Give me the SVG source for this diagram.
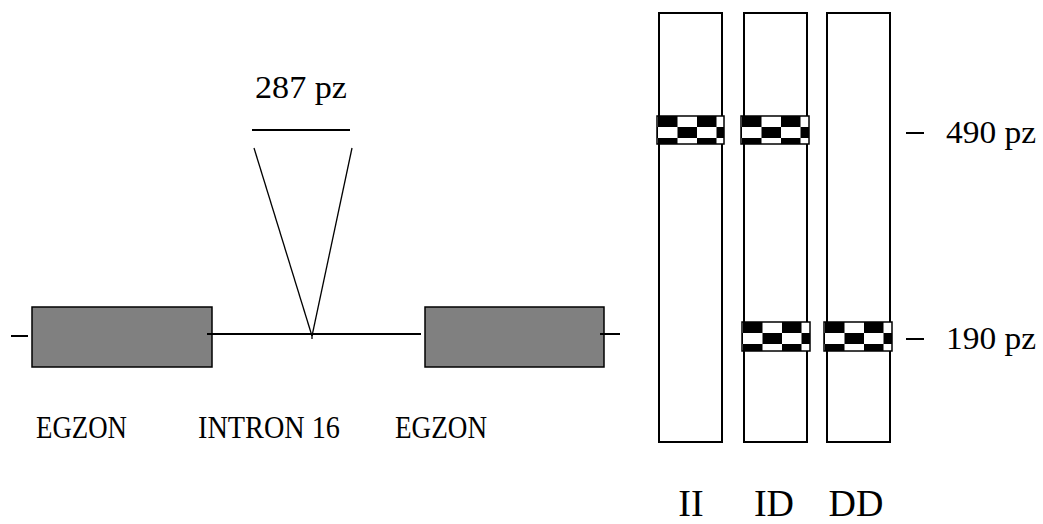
<svg xmlns="http://www.w3.org/2000/svg" width="1043" height="524" viewBox="0 0 1043 524">
  <style>
    .lbl { font-family: "Liberation Serif", "Times New Roman", serif; font-size: 31px; fill: #000; }
    .big { font-family: "Liberation Serif", "Times New Roman", serif; font-size: 38px; fill: #000; text-anchor: middle; }
    .ln { stroke: #000; stroke-width: 2; fill: none; }
    .thin { stroke: #000; stroke-width: 1.3; fill: none; }
    .exon { fill: #808080; stroke: #000; stroke-width: 1.5; }
    .lane { fill: #fff; stroke: #000; stroke-width: 2; }
    .band { fill: url(#checker); stroke: #000; stroke-width: 1.5; }
  </style>
  <defs>
    <!-- two-row checkerboard used for the gel bands -->
    <pattern id="checker" patternUnits="userSpaceOnUse" x="1" y="0" width="39" height="22">
      <rect width="39" height="22" fill="#fff"/>
      <rect x="0" y="0" width="19.5" height="11" fill="#000"/>
      <rect x="19.5" y="11" width="19.5" height="11" fill="#000"/>
    </pattern>
  </defs>

  <rect width="1043" height="524" fill="#fff"/>

  <!-- gene structure: backbone lines and insertion wedge -->
  <g id="connectors">
    <line class="ln" x1="11" y1="336" x2="28" y2="336"/>
    <line class="ln" x1="207" y1="334" x2="421" y2="334"/>
    <line class="ln" x1="600" y1="334" x2="620" y2="334"/>
    <line class="thin" x1="254" y1="148" x2="312" y2="336"/>
    <line class="thin" x1="352" y1="148" x2="312" y2="336"/>
    <line class="thin" x1="312" y1="334" x2="312" y2="339"/>
    <line class="ln" x1="252" y1="130" x2="350" y2="130"/>
  </g>

  <g id="exon-left">
    <rect class="exon" x="32" y="307" width="180" height="60"/>
    <line class="ln" x1="207" y1="334" x2="212" y2="334"/>
    <text class="lbl" x="36" y="438" textLength="91" lengthAdjust="spacingAndGlyphs">EGZON</text>
  </g>

  <g id="intron">
    <text class="lbl" x="198" y="438" textLength="142" lengthAdjust="spacingAndGlyphs">INTRON 16</text>
  </g>

  <g id="insert">
    <text class="lbl" x="255" y="98" textLength="92" lengthAdjust="spacingAndGlyphs">287 pz</text>
  </g>

  <g id="exon-right">
    <rect class="exon" x="425" y="307" width="179" height="60"/>
    <line class="ln" x1="600" y1="334" x2="604" y2="334"/>
    <text class="lbl" x="395" y="438" textLength="92" lengthAdjust="spacingAndGlyphs">EGZON</text>
  </g>

  <!-- gel lanes -->
  <g id="lane-II">
    <rect class="lane" x="659" y="13" width="63" height="429"/>
    <g transform="translate(657,116)"><rect class="band" width="67" height="28"/></g>
    <text class="big" x="691" y="516">II</text>
  </g>

  <g id="lane-ID">
    <rect class="lane" x="744" y="13" width="63" height="429"/>
    <g transform="translate(741,116)"><rect class="band" width="68" height="28"/></g>
    <g transform="translate(742,322)"><rect class="band" width="68" height="29"/></g>
    <text class="big" x="774" y="516">ID</text>
  </g>

  <g id="lane-DD">
    <rect class="lane" x="827" y="13" width="63" height="429"/>
    <g transform="translate(824,322)"><rect class="band" width="68" height="29"/></g>
    <text class="big" x="856" y="516">DD</text>
  </g>

  <!-- size markers -->
  <g id="marker-490">
    <line class="ln" x1="906" y1="133" x2="924" y2="133"/>
    <text class="lbl" x="946" y="143" textLength="90" lengthAdjust="spacingAndGlyphs">490 pz</text>
  </g>
  <g id="marker-190">
    <line class="ln" x1="906" y1="339" x2="924" y2="339"/>
    <text class="lbl" x="946" y="349" textLength="90" lengthAdjust="spacingAndGlyphs">190 pz</text>
  </g>
</svg>
